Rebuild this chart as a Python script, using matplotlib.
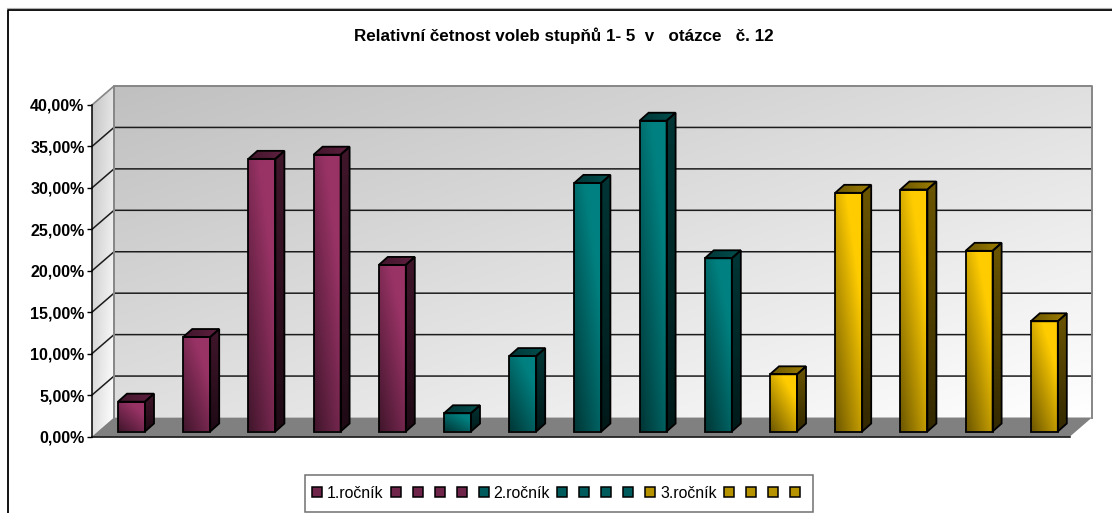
import numpy as np
import matplotlib
matplotlib.use("Agg")
import matplotlib.pyplot as plt
from matplotlib.patches import Polygon, Patch, Rectangle
from matplotlib.lines import Line2D
from matplotlib.ticker import FuncFormatter, MultipleLocator

# ---- data ----
values = [3.6, 11.4, 32.9, 33.4, 20.1,
          2.2, 9.1, 30.0, 37.5, 20.9,
          6.9, 28.8, 29.2, 21.8, 13.3]
groups = [0, 0, 0, 0, 0, 1, 1, 1, 1, 1, 2, 2, 2, 2, 2]
legend_labels = ['1.ročník', '', '', '', '',
                 '2.ročník', '', '', '', '',
                 '3.ročník', '', '', '', '']
group_colors = ['#993366', '#008080', '#FFCC00']
title = 'Relativní četnost voleb stupňů 1- 5  v   otázce   č. 12'
y_max = 40
y_step = 5

# ---- layout (pixels) ----
W, H = 1112, 513
L, R, B, T = 92, 1070, 436.5, 105
n = len(values)
px_x = (R - L) / n          # pixels per category
px_y = (B - T) / y_max      # pixels per percent
wall_dx, wall_dy = 22 / px_x, 19 / px_y
bar_dx, bar_dy = 9 / px_x, 8 / px_y
bar_w = 27 / px_x
bar_x0, bar_y0 = 26 / px_x, 5 / px_y

plt.rcParams['font.family'] = ['Liberation Sans', 'DejaVu Sans']
fig = plt.figure(figsize=(W / 100, H / 100), dpi=100)
ax = fig.add_axes([L / W, 1 - B / H, (R - L) / W, (B - T) / H])
ax.patch.set_visible(False)


def rgb(c):
    return np.array(matplotlib.colors.to_rgb(c))


def grad_image(field, c0, c1):
    f = field[..., None]
    return (1 - f) * rgb(c0) + f * rgb(c1)


def fill_grad(verts, func, c0, c1, z):
    """Fill a polygon (data coords) with a gradient; func(u, v) -> 0..1."""
    verts = np.array(verts, float)
    x0, y0 = verts.min(axis=0)
    x1, y1 = verts.max(axis=0)
    u, v = np.meshgrid(np.linspace(0, 1, 64), np.linspace(0, 1, 64))
    im = ax.imshow(grad_image(np.clip(func(u, v), 0, 1), c0, c1),
                   extent=(x0, x1, y0, y1), origin='lower', aspect='auto',
                   interpolation='bilinear', zorder=z)
    p = Polygon(verts, closed=True, transform=ax.transData, fc='none', ec='none')
    ax.add_patch(p)
    im.set_clip_box(fig.bbox)
    im.set_clip_path(p)
    return im


# ---- walls and floor ----
fill_grad([(wall_dx, wall_dy), (n + wall_dx, wall_dy),
           (n + wall_dx, y_max + wall_dy), (wall_dx, y_max + wall_dy)],
          lambda u, v: (u + (1 - v)) / 2, '#C0C0C0', '#FFFFFF', 1)
fill_grad([(0, 0), (wall_dx, wall_dy), (wall_dx, y_max + wall_dy), (0, y_max)],
          lambda u, v: 0.55 * u + 0.45 * (1 - v), '#C4C4C4', '#FFFFFF', 1)
ax.add_patch(Polygon([(0, 0), (n, 0), (n + wall_dx, wall_dy), (wall_dx, wall_dy)],
                     fc='#808080', ec='none', zorder=2, clip_on=False))

# gridlines on both walls
for yv in np.arange(y_step, y_max, y_step):
    ax.plot([0, wall_dx, n + wall_dx], [yv, yv + wall_dy, yv + wall_dy],
            color='#1c1c1c', lw=1.1, zorder=3, clip_on=False)
ax.plot([wall_dx, wall_dx, n + wall_dx, n + wall_dx],
        [wall_dy, y_max + wall_dy, y_max + wall_dy, wall_dy],
        color='#868686', lw=1.4, zorder=3, clip_on=False)
ax.plot([0, wall_dx], [y_max, y_max + wall_dy], color='#868686', lw=1.2, zorder=3,
        clip_on=False)

# ---- bars ----
for i, (val, g) in enumerate(zip(values, groups)):
    c = rgb(group_colors[g])
    x0 = i + bar_x0
    x1 = x0 + bar_w
    y0 = bar_y0
    y1 = bar_y0 + val
    z = 5 + i * 0.01
    front = [(x0, y0), (x1, y0), (x1, y1), (x0, y1)]
    side = [(x1, y0), (x1 + bar_dx, y0 + bar_dy),
            (x1 + bar_dx, y1 + bar_dy), (x1, y1)]
    top = [(x0, y1), (x1, y1), (x1 + bar_dx, y1 + bar_dy), (x0 + bar_dx, y1 + bar_dy)]
    fill_grad(front, lambda u, v: 0.6 * u + 0.75 * v, c * 0.42, c, z)
    fill_grad(side, lambda u, v: v, c * 0.2, c * 0.42, z)
    fill_grad(top, lambda u, v: u, c * 0.42, c * 0.62, z)
    for verts in (front, side, top):
        ax.add_patch(Polygon(verts, closed=True, fc='none', ec='black', lw=1.3,
                             joinstyle='miter', zorder=z + 0.001, clip_on=False))

# ---- axes ----
ax.set_xlim(0, n)
ax.set_ylim(0, y_max)
ax.set_xticks([])
ax.yaxis.set_major_locator(MultipleLocator(y_step))
ax.yaxis.set_major_formatter(FuncFormatter(lambda v, _: f'{v:.2f}%'.replace('.', ',')))
ax.tick_params(axis='y', length=3.8, width=1.0, pad=1.6, labelsize=11.5)
for lab in ax.get_yticklabels():
    lab.set_fontweight('bold')
for s in ('top', 'right'):
    ax.spines[s].set_visible(False)
for s in ('left', 'bottom'):
    ax.spines[s].set_linewidth(1.1)
    ax.spines[s].set_zorder(4)

# ---- title ----
fig.text(563.5 / W, 1 - 36 / H, title, ha='center', va='center',
         fontsize=12.25, fontweight='bold', color='black')

# ---- outer frame ----
fig.add_artist(Line2D([7.5 / W, 7.5 / W, 1], [0, 1 - 9.5 / H, 1 - 9.5 / H],
                      color='black', lw=1.3))
fig.add_artist(Line2D([7 / W, 1], [1 - 8 / H, 1 - 8 / H], color='#b0b0b0', lw=0.8))

# ---- legend ----
frame = Rectangle((304.5 / W, 1 - 511.5 / H), 508.5 / W, 36.5 / H,
                  transform=fig.transFigure, fc='white', ec='#707070', lw=1.1, zorder=-1)
fig.add_artist(frame)
handles = [Patch(fc=(rgb(group_colors[g]) * 0.72), ec='black', lw=1.1) for g in groups]
fs = 11.4
leg = ax.legend(handles, legend_labels, ncol=n, loc='center',
                bbox_to_anchor=((558.5 - L) / (R - L), (B - 493) / (B - T)),
                fontsize=fs, frameon=False, handlelength=7.2 / fs, handleheight=7.2 / fs,
                handletextpad=3.6 / fs, columnspacing=5.04 / fs,
                borderpad=0.4, borderaxespad=0)

fig.savefig('out.png', dpi=100)
